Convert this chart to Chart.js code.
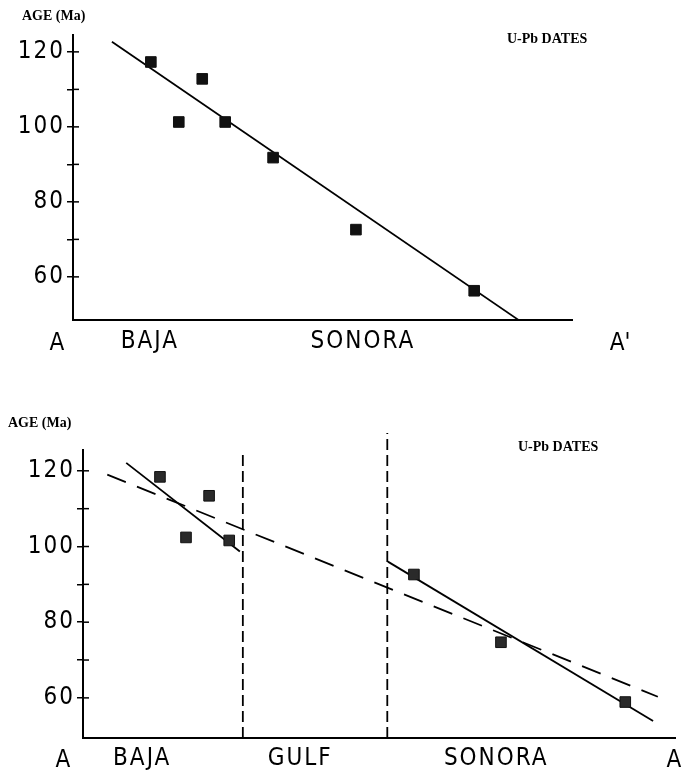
<!DOCTYPE html>
<html>
<head>
<meta charset="utf-8">
<script src="https://cdn.jsdelivr.net/npm/chart.js@4/dist/chart.umd.min.js"></script>
<style>
  html, body { margin: 0; padding: 0; background: #fff; }
  #wrap { position: relative; width: 685px; height: 774px; }
  canvas { position: absolute; left: 0; }
</style>
</head>
<body>
<div id="wrap">
  <canvas id="topChart" width="685" height="380" style="top:0"></canvas>
  <canvas id="bottomChart" width="685" height="394" style="top:380px"></canvas>
</div>
<script>
// ---- data (distance along section in arbitrary units, age in Ma) ----
const yTicks = [60, 70, 80, 90, 100, 110, 120];

// upper panel: A - A'
const topDist = [15.6, 21.2, 25.9, 30.5, 40.1, 56.7, 80.4];
const topAge = [117.3, 101.3, 112.8, 101.3, 91.8, 72.6, 56.3];
const topFitDist = [7.8, 89.2];
const topFitAge = [122.7, 48.6];
const topRegions = ['BAJA', 'SONORA'];
const topRegionPos = [15.4, 58.1];

// lower panel: A - A, gulf removed
const botDist = [13.0, 17.4, 21.3, 24.7, 55.9, 70.6, 91.6];
const botAge = [118.4, 102.4, 113.4, 101.6, 92.6, 74.7, 58.9];
const bajaFitDist = [7.3, 26.5];
const bajaFitAge = [122.1, 98.7];
const sonoraFitDist = [51.5, 96.3];
const sonoraFitAge = [96.0, 53.9];
const allFitDist = [4.1, 97.1];
const allFitAge = [119.0, 60.3];
const gulfEdgeDist = [27.0, 51.4];
const gulfEdgeTop = [125.5, 130.0];
const botRegions = ['BAJA', 'GULF', 'SONORA'];
const botRegionPos = [10.0, 36.7, 69.8];

const topMin = 48.5, topMax = 124.5;
const botMin = 49.4, botMax = 125.5;

const bigFont = { family: "'DejaVu Sans Condensed', 'DejaVu Sans', sans-serif", size: 24 };
const smallFont = 'bold 14px "Liberation Serif", "DejaVu Serif", serif';
const bigFontCss = "24px 'DejaVu Sans Condensed', 'DejaVu Sans', sans-serif";

function pts(xs, ys) { return xs.map((x, i) => ({ x, y: ys[i] })); }

// small tick stubs on the inner side of the y axis, so ticks cross it
const crossTicks = {
  id: 'crossTicks',
  beforeDraw(chart) { chart.ctx.letterSpacing = '2px'; },
  afterDraw(chart) {
    const ctx = chart.ctx, y = chart.scales.y, x0 = chart.chartArea.left;
    ctx.save();
    ctx.strokeStyle = '#000'; ctx.lineWidth = 1.5;
    y.ticks.forEach(t => {
      const py = y.getPixelForValue(t.value);
      ctx.beginPath(); ctx.moveTo(x0, py); ctx.lineTo(x0 + 6, py); ctx.stroke();
    });
    ctx.restore();
  }
};

// free text: axis title, legend note, section end letters
const notes = {
  id: 'notes',
  afterDraw(chart, args, opts) {
    const ctx = chart.ctx;
    ctx.save();
    ctx.fillStyle = '#000';
    ctx.textBaseline = 'alphabetic';
    (opts.items || []).forEach(n => {
      ctx.font = n.font;
      ctx.letterSpacing = n.spacing || '0px';
      ctx.textAlign = n.align || 'left';
      ctx.fillText(n.text, n.x, n.y);
    });
    ctx.restore();
    ctx.letterSpacing = '0px';
  }
};

function yScale(min, max, width) {
  return {
    type: 'linear', min, max,
    afterFit: s => { s.width = width; },
    afterBuildTicks: s => { s.ticks = yTicks.map(v => ({ value: v })); },
    ticks: { callback: v => (v % 20 === 0 ? v : ''), font: bigFont, color: '#000', padding: 2 },
    grid: { drawOnChartArea: false, drawTicks: true, tickLength: 6, color: '#000', lineWidth: 1.5 },
    border: { display: true, color: '#000', width: 2 }
  };
}

function xScale(names, pos, height, pad) {
  return {
    type: 'linear', min: 0, max: 100,
    afterFit: s => { s.height = height; },
    afterBuildTicks: s => { s.ticks = pos.map(v => ({ value: v })); },
    ticks: { callback: (v, i) => names[i], font: bigFont, color: '#000', padding: pad, autoSkip: false, maxRotation: 0 },
    grid: { display: false, drawTicks: false },
    border: { display: true, color: '#000', width: 2 }
  };
}

const squares = { showLine: false, pointStyle: 'rect', pointRadius: 7.5, borderWidth: 1 };
const fitLine = { showLine: true, pointRadius: 0, borderColor: '#000', borderWidth: 1.8, fill: false };

new Chart(document.getElementById('topChart'), {
  type: 'scatter',
  data: {
    datasets: [
      Object.assign({ data: pts(topDist, topAge), backgroundColor: '#111', borderColor: '#111' }, squares),
      Object.assign({ data: pts(topFitDist, topFitAge) }, fitLine)
    ]
  },
  options: {
    responsive: false, animation: false, events: [],
    layout: { padding: { left: 0, right: 113, top: 35, bottom: 0 } },
    scales: { x: xScale(topRegions, topRegionPos, 60, 7), y: yScale(topMin, topMax, 73) },
    plugins: {
      legend: { display: false }, tooltip: { enabled: false },
      notes: { items: [
        { text: 'AGE (Ma)', x: 22, y: 20, font: smallFont },
        { text: 'U-Pb DATES', x: 507, y: 43, font: smallFont },
        { text: 'A', x: 57, y: 350, font: bigFontCss, align: 'center' },
        { text: "A'", x: 620, y: 350, font: bigFontCss, align: 'center' }
      ] }
    }
  },
  plugins: [crossTicks, notes]
});

new Chart(document.getElementById('bottomChart'), {
  type: 'scatter',
  data: {
    datasets: [
      Object.assign({ data: pts(botDist, botAge), backgroundColor: '#2a2a2a', borderColor: '#111' }, squares),
      Object.assign({ data: pts(bajaFitDist, bajaFitAge) }, fitLine),
      Object.assign({ data: pts(sonoraFitDist, sonoraFitAge) }, fitLine),
      Object.assign({ data: pts(allFitDist, allFitAge), borderDash: [20, 12] }, fitLine),
      Object.assign({ data: [{ x: gulfEdgeDist[0], y: botMin }, { x: gulfEdgeDist[0], y: gulfEdgeTop[0] }], borderDash: [11, 5], clip: false }, fitLine),
      Object.assign({ data: [{ x: gulfEdgeDist[1], y: botMin }, { x: gulfEdgeDist[1], y: gulfEdgeTop[1] }], borderDash: [11, 5], clip: false }, fitLine)
    ]
  },
  options: {
    responsive: false, animation: false, events: [],
    layout: { padding: { left: 0, right: 10, top: 70, bottom: 0 } },
    scales: { x: xScale(botRegions, botRegionPos, 36, 6), y: yScale(botMin, botMax, 83) },
    plugins: {
      legend: { display: false }, tooltip: { enabled: false },
      notes: { items: [
        { text: 'AGE (Ma)', x: 8, y: 47, font: smallFont },
        { text: 'U-Pb DATES', x: 518, y: 71, font: smallFont },
        { text: 'A', x: 63, y: 387, font: bigFontCss, align: 'center' },
        { text: 'A', x: 674, y: 387, font: bigFontCss, align: 'center' }
      ] }
    }
  },
  plugins: [crossTicks, notes]
});
</script>
</body>
</html>
